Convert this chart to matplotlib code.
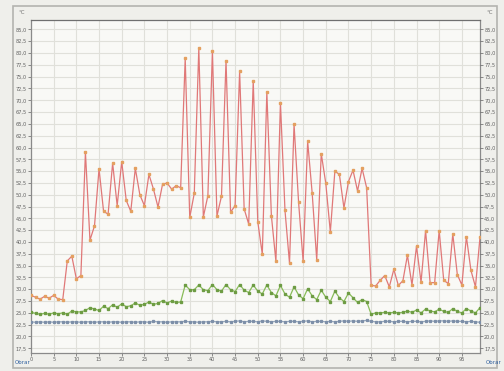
import matplotlib
matplotlib.use("Agg")
import matplotlib.pyplot as plt
from matplotlib.patches import Rectangle
from matplotlib.ticker import FuncFormatter

# sample index 0..99
idx = list(range(100))

red_vals = [
    28.7, 28.3, 27.9, 28.5, 28.1, 28.7, 27.9, 27.8, 36.0, 37.0,
    32.2, 32.9, 59.0, 40.4, 43.4, 55.5, 46.5, 45.9, 56.7, 47.7,
    57.0, 48.8, 46.5, 55.6, 50.0, 47.7, 54.3, 51.2, 47.4, 52.2,
    52.5, 51.2, 51.9, 51.5, 78.9, 45.2, 50.3, 81.0, 45.3, 49.8,
    80.4, 45.5, 49.7, 78.4, 46.3, 47.7, 76.1, 47.0, 43.8, 74.1,
    44.3, 37.4, 71.7, 45.6, 35.9, 69.4, 46.7, 35.5, 64.9, 48.4,
    35.9, 61.3, 50.3, 36.2, 58.7, 52.4, 42.1, 55.0, 54.3, 47.2,
    52.8, 55.2, 50.8, 55.6, 51.5, 30.8, 30.7, 31.9, 32.9, 30.5,
    34.2, 30.8, 31.8, 37.2, 30.9, 39.1, 31.5, 42.4, 31.4, 31.4,
    42.4, 31.9, 31.2, 41.7, 33.1, 30.9, 41.1, 34.0, 30.5, 41.0,
]

green_vals = [
    25.1, 24.9, 24.7, 24.9, 24.7, 25.0, 24.8, 25.0, 24.7, 25.4,
    25.2, 25.2, 25.5, 26.1, 25.8, 25.5, 26.4, 25.9, 26.7, 26.2,
    26.9, 26.3, 26.5, 27.1, 26.6, 26.8, 27.3, 26.8, 27.0, 27.6,
    27.1, 27.5, 27.2, 27.3, 30.9, 29.9, 29.9, 30.9, 29.9, 29.7,
    31.0, 29.9, 29.6, 31.0, 29.9, 29.5, 31.0, 29.8, 29.3, 30.9,
    29.6, 29.0, 30.9, 29.3, 28.6, 30.8, 29.0, 28.3, 30.5, 28.8,
    28.0, 30.1, 28.6, 27.8, 29.8, 28.3, 27.4, 29.6, 28.2, 27.4,
    29.2, 28.2, 27.2, 27.8, 27.4, 24.7, 25.0, 25.0, 25.1, 25.0,
    25.1, 25.0, 25.1, 25.4, 25.1, 25.6, 25.0, 25.8, 25.4, 25.2,
    25.8, 25.3, 25.1, 25.9, 25.3, 25.0, 25.9, 25.4, 25.0, 26.1,
]

blue_vals = [
    23.1, 23.0, 23.1, 23.0, 23.1, 23.0, 23.1, 23.1, 23.0, 23.1,
    23.1, 23.0, 23.1, 23.1, 23.0, 23.1, 23.1, 23.0, 23.1, 23.1,
    23.0, 23.1, 23.1, 23.0, 23.1, 23.1, 23.0, 23.2, 23.1, 23.1,
    23.0, 23.1, 23.1, 23.1, 23.2, 23.1, 23.1, 23.0, 23.1, 23.1,
    23.2, 23.1, 23.1, 23.2, 23.1, 23.2, 23.3, 23.1, 23.2, 23.2,
    23.1, 23.3, 23.2, 23.1, 23.2, 23.2, 23.1, 23.2, 23.2, 23.1,
    23.2, 23.3, 23.1, 23.2, 23.2, 23.1, 23.2, 23.1, 23.2, 23.3,
    23.2, 23.3, 23.2, 23.3, 23.4, 23.2, 23.1, 23.1, 23.2, 23.2,
    23.1, 23.2, 23.2, 23.1, 23.2, 23.2, 23.1, 23.2, 23.3, 23.2,
    23.3, 23.3, 23.2, 23.3, 23.2, 23.2, 23.1, 23.2, 23.1, 23.0,
]

y_ticks = [17.5 + 2.5 * k for k in range(28)]
x_ticks = list(range(0, 100, 5))


def comma(v, pos):
    return f"{v:.1f}".replace(".", ",")


fig = plt.figure(figsize=(5.04, 3.71), dpi=100)
fig.patch.set_facecolor("#efefeb")
fig.patches.append(Rectangle((13 / 504, 3 / 371), 484 / 504, 362 / 371,
                             transform=fig.transFigure, fill=False,
                             edgecolor="#b4b4b0", linewidth=1.2))

ax = fig.add_axes([31 / 504, 18 / 371, 449 / 504, 333 / 371])
ax.set_facecolor("#f9f9f6")

ax.plot(idx, red_vals, color="#e07878", lw=0.9, marker="s", ms=1.9,
        mfc="#e4a060", mec="#e4a060", zorder=5)
ax.plot(idx, green_vals, color="#88bc58", lw=0.9, marker="s", ms=1.6,
        mfc="#6e9c44", mec="#6e9c44", zorder=4)
ax.plot(idx, blue_vals, color="#98aac0", lw=0.9, marker="s", ms=1.4,
        mfc="#7d8fa8", mec="#7d8fa8", zorder=3)

ax.set_xlim(0, 99)
ax.set_ylim(16.5, 87.0)
ax.set_xticks(x_ticks)
ax.set_yticks(y_ticks)
ax.yaxis.set_major_formatter(FuncFormatter(comma))
ax.grid(True, color="#e0e0da", lw=0.8)
ax.tick_params(labelsize=3.6, length=2, width=0.5, colors="#606060", pad=1)
for s in ax.spines.values():
    s.set_color("#8a8a8a")
    s.set_linewidth(0.9)
ax.spines["top"].set_color("#707070")

ax2 = ax.twinx()
ax2.set_ylim(ax.get_ylim())
ax2.set_yticks(y_ticks)
ax2.yaxis.set_major_formatter(FuncFormatter(comma))
ax2.tick_params(labelsize=3.6, length=2, width=0.5, colors="#606060", pad=1)
for s in ax2.spines.values():
    s.set_visible(False)

fig.text(22 / 504, 1 - 13 / 371, "°C", fontsize=4, color="#707070",
         ha="center", va="center")
fig.text(490 / 504, 1 - 13 / 371, "°C", fontsize=4, color="#707070",
         ha="center", va="center")
fig.text(15 / 504, 1 - 363 / 371, "Obrar", fontsize=4, color="#3060a0",
         ha="left", va="center")
fig.text(486 / 504, 1 - 363 / 371, "Obrar", fontsize=4, color="#3060a0",
         ha="left", va="center")

fig.savefig("out.png", dpi=100, facecolor=fig.get_facecolor())
